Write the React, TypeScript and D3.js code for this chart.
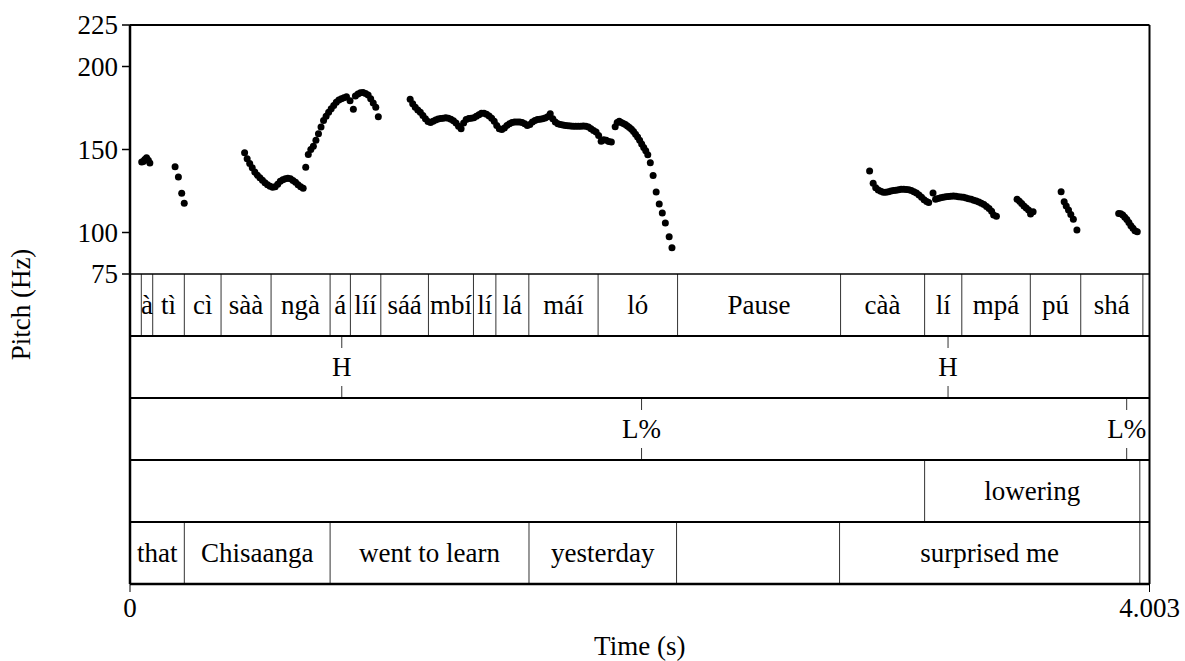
import React from "react";
import * as d3 from "d3";

// ---------- data ----------
const pitchTicks = [75, 100, 150, 200, 225];
const timeTickLabels = ["0", "4.003"];
const timeDomain = [0, 4.003];
const pitchDomain = [75, 225];

// [time (s), F0 (Hz)]
const pitchPoints: [number, number][] = [
  // à
  [0.046, 142.5], [0.052, 142.7], [0.058, 144.0], [0.065, 145.0], [0.072, 143.5], [0.078, 141.8],
  // tì
  [0.177, 139.6], [0.19, 133.5], [0.203, 123.6], [0.213, 117.6],
  // sàà ngà
  [0.45, 148.0], [0.46, 144.5], [0.47, 141.5], [0.48, 139.0], [0.49, 136.5], [0.5, 134.5],
  [0.51, 133.0], [0.52, 131.5], [0.53, 130.0], [0.54, 128.8], [0.55, 127.8], [0.56, 127.2],
  [0.57, 127.5], [0.58, 129.0], [0.59, 130.8], [0.6, 131.8], [0.61, 132.4], [0.62, 132.7],
  [0.63, 132.4], [0.64, 131.4], [0.65, 130.2], [0.66, 128.8], [0.67, 127.6], [0.68, 126.6],
  // á líí rise
  [0.69, 139.3], [0.7, 147.0], [0.71, 150.0], [0.72, 152.0], [0.73, 155.5], [0.74, 159.5],
  [0.75, 163.5], [0.76, 167.5], [0.77, 170.0], [0.78, 172.5], [0.79, 174.5], [0.8, 176.5],
  [0.81, 178.5], [0.82, 179.8], [0.83, 180.6], [0.84, 181.2], [0.85, 181.8], [0.864, 179.4],
  [0.877, 174.2],
  [0.885, 182.2], [0.895, 183.5], [0.905, 184.2], [0.915, 184.3], [0.925, 183.8], [0.935, 182.8],
  [0.945, 180.5], [0.955, 178.0], [0.965, 175.5], [0.975, 169.8],
  // mbí lí lá máí
  [1.1, 180.2], [1.11, 177.5], [1.12, 175.5], [1.13, 173.8], [1.14, 172.5], [1.15, 170.5],
  [1.16, 168.5], [1.17, 166.8], [1.18, 166.3], [1.19, 167.0], [1.2, 167.8], [1.21, 168.3],
  [1.22, 168.6], [1.23, 168.9], [1.24, 169.1], [1.25, 168.8], [1.26, 168.2], [1.27, 167.3],
  [1.28, 166.0], [1.29, 164.0], [1.3, 162.5], [1.31, 166.0], [1.32, 168.0], [1.33, 168.6],
  [1.34, 168.8], [1.35, 169.2], [1.36, 170.0], [1.37, 171.0], [1.38, 171.8], [1.39, 171.8],
  [1.4, 171.2], [1.41, 170.2], [1.42, 168.8], [1.43, 167.0], [1.44, 164.5], [1.45, 162.5],
  [1.46, 162.0], [1.47, 163.0], [1.48, 164.5], [1.49, 165.5], [1.5, 166.2], [1.51, 166.5],
  [1.52, 166.6], [1.53, 166.5], [1.54, 166.2], [1.55, 165.5], [1.56, 164.5], [1.57, 165.0],
  [1.58, 166.5], [1.59, 167.5], [1.6, 168.0], [1.61, 168.2], [1.62, 168.5], [1.63, 169.0],
  [1.64, 169.8], [1.65, 171.5], [1.66, 168.5], [1.67, 166.5], [1.68, 165.5], [1.69, 165.0],
  [1.7, 164.8], [1.71, 164.5], [1.72, 164.3], [1.73, 164.2], [1.74, 164.0], [1.75, 164.0],
  [1.76, 164.0], [1.77, 164.0], [1.78, 164.2], [1.79, 164.0], [1.8, 163.5], [1.81, 162.5],
  [1.82, 161.5], [1.83, 160.5], [1.84, 158.5], [1.85, 155.0], [1.86, 155.8], [1.87, 155.5],
  [1.88, 154.8], [1.89, 154.5],
  // ló
  [1.905, 163.7], [1.913, 166.3], [1.921, 167.0], [1.929, 166.3], [1.937, 165.6], [1.945, 165.0],
  [1.953, 164.2], [1.961, 163.2], [1.969, 162.2], [1.977, 160.8], [1.985, 159.2], [1.993, 157.5],
  [2.001, 155.5], [2.009, 153.3], [2.017, 151.2], [2.025, 149.3], [2.033, 146.8], [2.043, 142.0],
  [2.054, 134.4], [2.066, 124.4], [2.078, 117.2], [2.09, 111.8], [2.102, 105.7], [2.117, 97.5],
  [2.128, 90.8],
  // càà
  [2.904, 137.0], [2.918, 129.6], [2.928, 127.0], [2.938, 125.6], [2.948, 124.8], [2.958, 124.3],
  [2.968, 124.3], [2.978, 124.6], [2.988, 125.0], [2.998, 125.3], [3.008, 125.5], [3.018, 125.8],
  [3.028, 126.0], [3.038, 126.0], [3.048, 125.9], [3.058, 125.7], [3.068, 125.3], [3.078, 124.6],
  [3.088, 123.8], [3.098, 122.6], [3.108, 121.2], [3.118, 119.8], [3.128, 118.6], [3.136, 118.0],
  // lí mpá
  [3.153, 123.8], [3.163, 120.0], [3.173, 120.5], [3.183, 121.0], [3.193, 121.3], [3.203, 121.5],
  [3.213, 121.7], [3.223, 121.8], [3.233, 122.0], [3.243, 121.8], [3.253, 121.6], [3.263, 121.4],
  [3.273, 121.2], [3.283, 120.8], [3.293, 120.4], [3.303, 120.0], [3.313, 119.5], [3.323, 119.0],
  [3.333, 118.3], [3.343, 117.6], [3.353, 116.8], [3.363, 115.7], [3.373, 114.5], [3.383, 112.8],
  [3.391, 110.5], [3.402, 109.8],
  // pú
  [3.483, 120.0], [3.492, 118.8], [3.501, 117.5], [3.51, 116.0], [3.519, 114.8], [3.528, 113.5],
  [3.536, 111.2], [3.546, 112.5],
  // pú / shá
  [3.656, 124.6], [3.668, 118.5], [3.676, 116.0], [3.685, 113.5], [3.694, 110.8], [3.704, 108.0],
  [3.718, 101.5],
  // shá
  [3.882, 111.5], [3.89, 111.3], [3.898, 110.5], [3.906, 109.2], [3.914, 107.8], [3.922, 106.0],
  [3.93, 104.0], [3.938, 102.5], [3.946, 101.0], [3.955, 100.5],
];

// Tier 1: syllables (interval tier)
const syllableBounds = [0, 0.0444, 0.0892, 0.2133, 0.3575, 0.5539, 0.7857, 0.8654, 0.9848, 1.1718,
  1.3486, 1.4366, 1.566, 1.838, 2.15, 2.79, 3.12, 3.266, 3.535, 3.733, 3.977, 4.003];
const syllableLabels = ["", "à", "tì", "cì", "sàà", "ngà", "á", "líí", "sáá", "mbí", "lí", "lá",
  "máí", "ló", "Pause", "càà", "lí", "mpá", "pú", "shá", ""];

// Tier 2: pitch accents (point tier)
const accentTimes = [0.8315, 3.212];
const accentLabels = ["H", "H"];

// Tier 3: boundary tones (point tier)
const boundaryToneTimes = [2.0086, 3.9134];
const boundaryToneLabels = ["L%", "L%"];

// Tier 4: process (interval tier)
const processBounds = [0, 3.12, 3.965, 4.003];
const processLabels = ["", "lowering", ""];

// Tier 5: gloss (interval tier)
const glossBounds = [0, 0.2133, 0.7857, 1.5666, 2.146, 2.786, 3.965, 4.003];
const glossLabels = ["that", "Chisaanga", "went to learn", "yesterday", "", "surprised me", ""];

// ---------- layout ----------
const W = 1185;
const H = 661;
const left = 130;
const right = 1149.5;
const top = 25;
const pitchBottom = 274;
const tierH = 62;
const nTiers = 5;
const bottom = pitchBottom + tierH * nTiers;
const FONT = '"Liberation Serif", "Times New Roman", Times, serif';
const FS = 27;

type Interval = { bounds: number[]; labels: string[] };
type Points = { times: number[]; labels: string[] };

export default function App() {
  const x = d3.scaleLinear().domain(timeDomain).range([left, right]);
  const y = d3.scaleLinear().domain(pitchDomain).range([pitchBottom, top]);

  const tiers: (Interval | Points)[] = [
    { bounds: syllableBounds, labels: syllableLabels },
    { times: accentTimes, labels: accentLabels },
    { times: boundaryToneTimes, labels: boundaryToneLabels },
    { bounds: processBounds, labels: processLabels },
    { bounds: glossBounds, labels: glossLabels },
  ];

  const txt = { fontFamily: FONT, fontSize: FS } as React.CSSProperties;

  return (
    <svg
      width={W}
      height={H}
      style={{ position: "absolute", left: 0, top: 0, background: "#fff", fontFamily: FONT }}
    >
      <rect x={0} y={0} width={W} height={H} fill="#fff" />

      {/* tiers */}
      {tiers.map((tier, i) => {
        const ty = pitchBottom + i * tierH;
        const cy = ty + tierH / 2;
        if ("bounds" in tier) {
          const b = tier.bounds;
          return (
            <g key={i}>
              {b.slice(1, -1).map((t, j) => (
                <line key={j} x1={x(t)} x2={x(t)} y1={ty} y2={ty + tierH} stroke="#333" strokeWidth={1} />
              ))}
              {tier.labels.map((lab, j) =>
                lab ? (
                  <text key={"t" + j} x={(x(b[j]) + x(b[j + 1])) / 2} y={cy} dy="0.35em"
                    textAnchor="middle" style={txt} fill="#000">{lab}</text>
                ) : null
              )}
            </g>
          );
        }
        return (
          <g key={i}>
            {tier.times.map((t, j) => (
              <g key={j}>
                <line x1={x(t)} x2={x(t)} y1={ty} y2={ty + 12} stroke="#333" strokeWidth={1} />
                <line x1={x(t)} x2={x(t)} y1={ty + tierH - 12} y2={ty + tierH} stroke="#333" strokeWidth={1} />
                <text x={x(t)} y={cy} dy="0.35em" textAnchor="middle" style={txt} fill="#000">
                  {tier.labels[j]}
                </text>
              </g>
            ))}
          </g>
        );
      })}

      {/* tier separators */}
      {d3.range(nTiers).map((i) => (
        <line key={"s" + i} x1={left} x2={right} y1={pitchBottom + i * tierH} y2={pitchBottom + i * tierH}
          stroke="#000" strokeWidth={i === 0 ? 1.5 : 2} />
      ))}

      {/* pitch points */}
      {pitchPoints.map(([t, f], i) => (
        <circle key={"p" + i} cx={x(t)} cy={y(f)} r={3.5} fill="#000" />
      ))}

      {/* frame */}
      <line x1={left} x2={right} y1={top} y2={top} stroke="#000" strokeWidth={2} />
      <line x1={left} x2={right} y1={bottom} y2={bottom} stroke="#000" strokeWidth={2.5} />
      <line x1={left} x2={left} y1={top} y2={bottom} stroke="#000" strokeWidth={2.5} />
      <line x1={right} x2={right} y1={top} y2={bottom} stroke="#000" strokeWidth={2} />

      {/* pitch axis */}
      {pitchTicks.map((v) => (
        <g key={"yt" + v}>
          <line x1={left - 8} x2={left} y1={y(v)} y2={y(v)} stroke="#000" strokeWidth={1.5} />
          <text x={left - 12} y={y(v)} dy="0.35em" textAnchor="end" style={txt} fill="#000">{v}</text>
        </g>
      ))}
      <text transform={`translate(21,${(top + bottom) / 2}) rotate(-90)`} textAnchor="middle"
        dy="0.35em" style={txt} fill="#000">Pitch (Hz)</text>

      {/* time axis */}
      {timeDomain.map((t, i) => (
        <g key={"xt" + i}>
          <line x1={x(t)} x2={x(t)} y1={bottom} y2={bottom + 8} stroke="#000" strokeWidth={1} />
          <text x={x(t)} y={bottom + 24} dy="0.35em" textAnchor="middle" style={txt} fill="#000">
            {timeTickLabels[i]}
          </text>
        </g>
      ))}
      <text x={(left + right) / 2} y={bottom + 62} dy="0.35em" textAnchor="middle" style={txt} fill="#000">
        Time (s)
      </text>
    </svg>
  );
}
